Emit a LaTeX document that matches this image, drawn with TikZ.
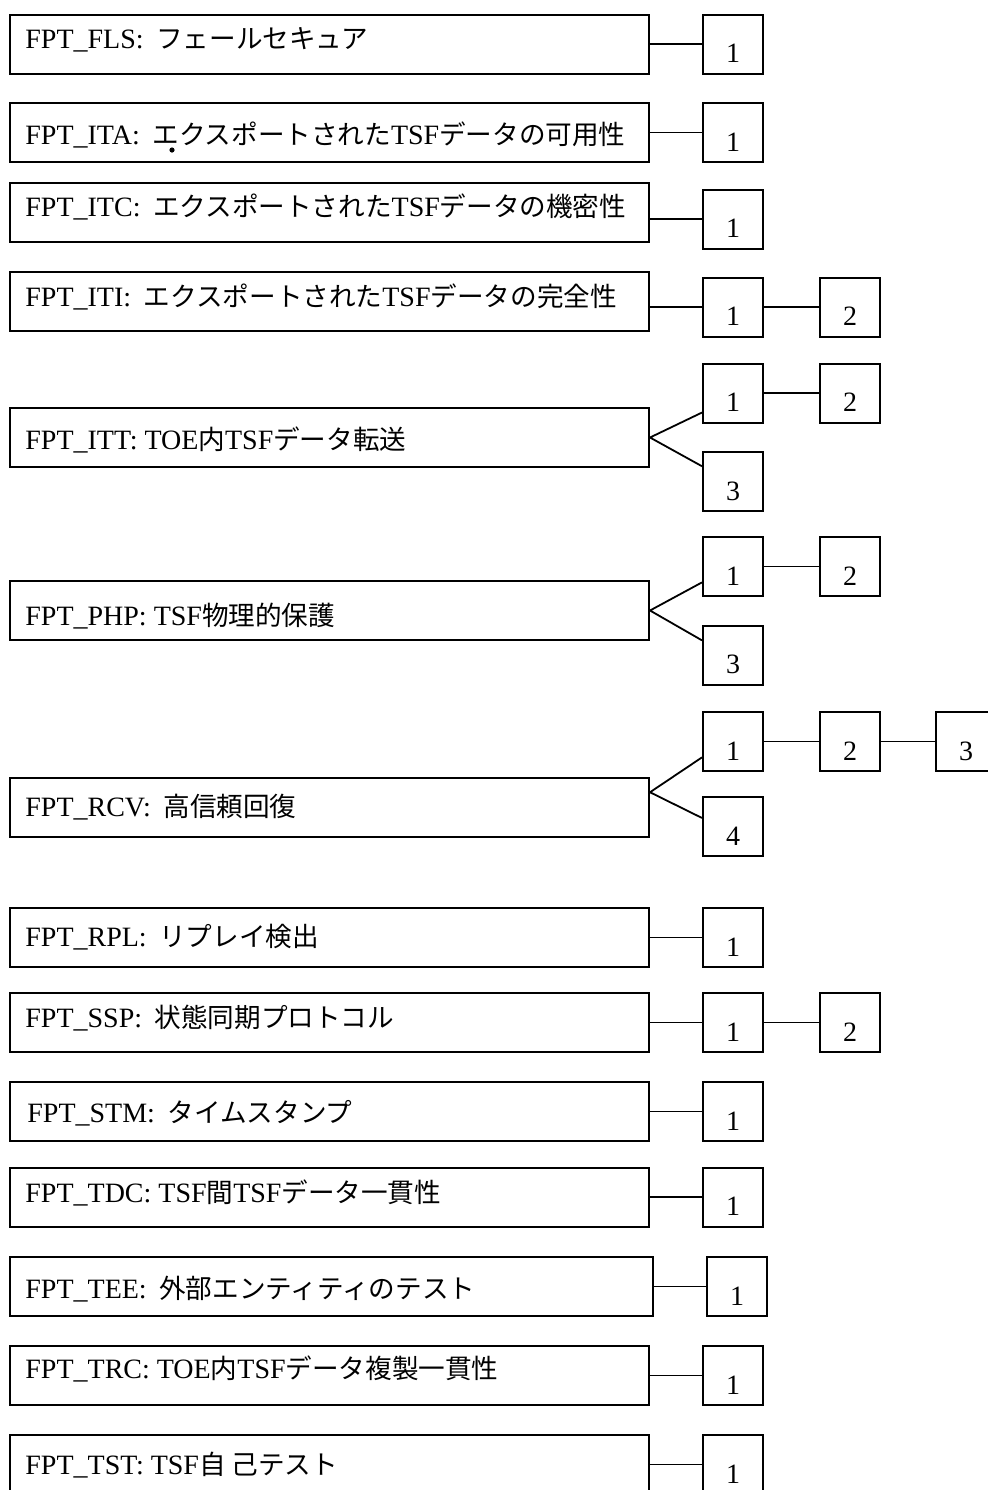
\documentclass[tikz,border=0pt]{standalone}
\usepackage{fontspec}
\setmainfont{Liberation Serif}
\newfontfamily\cjk{Noto Sans CJK JP}[Scale=0.95]
\usetikzlibrary{calc}
\tikzset{
  mainbox/.style={draw, line width=1pt, rectangle, inner sep=0pt,
    minimum width=319.5pt, minimum height=29.5pt},
  nbox/.style={draw, line width=1pt, rectangle, inner sep=0pt,
    minimum width=30pt, minimum height=29.5pt},
  numtxt/.style={anchor=base, inner sep=0pt, font=\fontsize{14}{16}\selectfont},
  lbl/.style={anchor=base west, inner sep=0pt, font=\fontsize{14}{16}\selectfont},
  conn/.style={line width=0.9pt},
}
\newcommand{\mknum}[3]{%
  \node[nbox] (#1) at (#2) {};
  \node[numtxt] (#1t) at ([yshift=6pt]#1.south) {#3};}
\newcommand{\wsp}{\hspace{0.45em}}
\begin{document}
\begin{tikzpicture}[x=0.5pt,y=-0.5pt]
\clip (0,0) rectangle (988,1490);
\fill[white] (0,0) rectangle (988,1490);

% 1 FLS
\node[mainbox] (m1) at (329.5,44) {};
\node[lbl] (t1) at (25,48) {FPT\_FLS:\wsp{\cjk フェールセキュア}};
\mknum{n1a}{733,44}{1}
\draw[conn] (n1a.west -| m1.east) -- (n1a.west);

% 2 ITA
\node[mainbox] (m2) at (329.5,132.5) {};
\node[lbl] (t2) at (25,144) {FPT\_ITA:\wsp{\cjk エクスポートされた}TSF{\cjk データの可用性}};
\fill (172,150) circle (1.3pt);
\mknum{n2a}{733,132.5}{1}
\draw[conn] (n2a.west -| m2.east) -- (n2a.west);

% 3 ITC
\node[mainbox] (m3) at (329.5,212.5) {};
\node[lbl] (t3) at (25,216) {FPT\_ITC:\wsp{\cjk エクスポートされた}TSF{\cjk データの機密性}};
\mknum{n3a}{733,219}{1}
\draw[conn] (n3a.west -| m3.east) -- (n3a.west);

% 4 ITI
\node[mainbox] (m4) at (329.5,301.5) {};
\node[lbl] (t4) at (25,306) {FPT\_ITI:\wsp{\cjk エクスポートされた}TSF{\cjk データの完全性}};
\mknum{n4a}{733,307}{1}
\mknum{n4b}{850,307}{2}
\draw[conn] (n4a.west -| m4.east) -- (n4a.west);
\draw[conn] (n4a.east) -- (n4b.west);

% 5 ITT
\node[mainbox] (m5) at (329.5,437.5) {};
\node[lbl] (t5) at (25,449) {FPT\_ITT: TOE{\cjk 内}TSF{\cjk データ転送}};
\mknum{n5a}{733,393}{1}
\mknum{n5b}{850,393}{2}
\mknum{n5c}{733,481.5}{3}
\draw[conn] ($(n5a.north west)!0.82!(n5a.south west)$) -- (m5.east)
  -- ($(n5c.north west)!0.25!(n5c.south west)$);
\draw[conn] (n5a.east) -- (n5b.west);

% 6 PHP
\node[mainbox] (m6) at (329.5,610.5) {};
\node[lbl] (t6) at (25,625) {FPT\_PHP: TSF{\cjk 物理的保護}};
\mknum{n6a}{733,566.5}{1}
\mknum{n6b}{850,566.5}{2}
\mknum{n6c}{733,655}{3}
\draw[conn] ($(n6a.north west)!0.76!(n6a.south west)$) -- (m6.east)
  -- ($(n6c.north west)!0.26!(n6c.south west)$);
\draw[conn] (n6a.east) -- (n6b.west);

% 7 RCV
\node[mainbox] (m7) at (329.5,807.5) {};
\node[lbl] (t7) at (25,816) {FPT\_RCV:\wsp{\cjk 高信頼回復}};
\mknum{n7a}{733,741.5}{1}
\mknum{n7b}{850,741.5}{2}
\mknum{n7c}{966,741.5}{3}
\mknum{n7d}{733,826.5}{4}
\coordinate (a7) at ($(m7.north east)!0.25!(m7.south east)$);
\draw[conn] ($(n7a.north west)!0.76!(n7a.south west)$) -- (a7)
  -- ($(n7d.north west)!0.36!(n7d.south west)$);
\draw[conn] (n7a.east) -- (n7b.west);
\draw[conn] (n7b.east) -- (n7c.west);

% 8 RPL
\node[mainbox] (m8) at (329.5,937.5) {};
\node[lbl] (t8) at (25,946) {FPT\_RPL:\wsp{\cjk リプレイ検出}};
\mknum{n8a}{733,937.5}{1}
\draw[conn] (n8a.west -| m8.east) -- (n8a.west);

% 9 SSP
\node[mainbox] (m9) at (329.5,1022.5) {};
\node[lbl] (t9) at (25,1027) {FPT\_SSP:\wsp{\cjk 状態同期プロトコル}};
\mknum{n9a}{733,1022.5}{1}
\mknum{n9b}{850,1022.5}{2}
\draw[conn] (n9a.west -| m9.east) -- (n9a.west);
\draw[conn] (n9a.east) -- (n9b.west);

% 10 STM
\node[mainbox] (m10) at (329.5,1111.5) {};
\node[lbl] (t10) at (27,1122) {FPT\_STM:\wsp{\cjk タイムスタンプ}};
\mknum{n10a}{733,1111.5}{1}
\draw[conn] (n10a.west -| m10.east) -- (n10a.west);

% 11 TDC
\node[mainbox] (m11) at (329.5,1197) {};
\node[lbl] (t11) at (25,1202) {FPT\_TDC: TSF{\cjk 間}TSF{\cjk データ一貫性}};
\mknum{n11a}{733,1197}{1}
\draw[conn] (n11a.west -| m11.east) -- (n11a.west);

% 12 TEE
\node[mainbox, minimum width=321.5pt] (m12) at (331.5,1286.5) {};
\node[lbl] (t12) at (25,1298) {FPT\_TEE:\wsp{\cjk 外部エンティティのテスト}};
\mknum{n12a}{737,1286.5}{1}
\draw[conn] (n12a.west -| m12.east) -- (n12a.west);

% 13 TRC
\node[mainbox] (m13) at (329.5,1375.5) {};
\node[lbl] (t13) at (25,1378) {FPT\_TRC: TOE{\cjk 内}TSF{\cjk データ複製一貫性}};
\mknum{n13a}{733,1375.5}{1}
\draw[conn] (n13a.west -| m13.east) -- (n13a.west);

% 14 TST
\node[mainbox] (m14) at (329.5,1464.5) {};
\node[lbl] (t14) at (25,1474) {FPT\_TST: TSF{\cjk 自}\hspace{3pt}{\cjk 己テスト}};
\mknum{n14a}{733,1464.5}{1}
\draw[conn] (n14a.west -| m14.east) -- (n14a.west);
\end{tikzpicture}
\end{document}
